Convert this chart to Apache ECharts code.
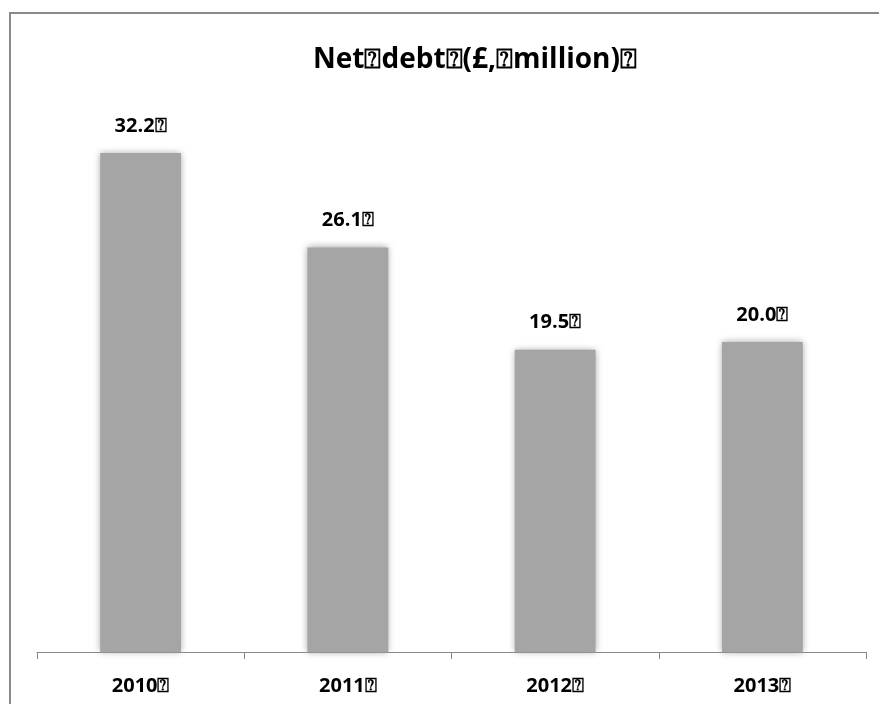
<!DOCTYPE html>
<html><head><meta charset="utf-8">
<script src="https://cdn.jsdelivr.net/npm/echarts@6/dist/echarts.min.js"></script>
<style>html,body{margin:0;padding:0;background:#fff}#c{width:879px;height:704px}</style>
</head><body><div id="c"></div>
<script>
const categories = ["2010\u2370", "2011\u2370", "2012\u2370", "2013\u2370"];
const values = [32.2, 26.1, 19.5, 20.0];
const labelSuffix = "\u2370";
const titleText = "Net\u2370debt\u2370(£,\u2370million)\u2370";

const chart = echarts.init(document.getElementById('c'));
const FONT = '"Open Sans", sans-serif';
chart.setOption({
  animation: false,
  backgroundColor: '#fff',
  title: {
    text: titleText, left: 308, top: 41,
    textStyle: {fontFamily: FONT, fontWeight: 'bold', fontSize: 28, color: '#000'}
  },
  graphic: [{
    type: 'rect', shape: {x: 10, y: 13, width: 900, height: 800},
    style: {fill: 'none', stroke: '#8a8a8a', lineWidth: 2}, z: 100
  }],
  grid: {left: 37, right: 13, top: 32, bottom: 52},
  xAxis: {
    type: 'category', data: categories,
    axisLine: {lineStyle: {color: '#888', width: 1}},
    axisTick: {show: true, length: 7, lineStyle: {color: '#888'}},
    axisLabel: {margin: 24, fontFamily: FONT, fontWeight: 'bold', fontSize: 20, color: '#000'}
  },
  yAxis: {type: 'value', min: 0, max: 40, show: false, splitLine: {show: false}},
  series: [{
    type: 'bar', data: values, barWidth: '39%',
    itemStyle: {color: '#a5a5a5', shadowBlur: 7, shadowColor: 'rgba(160,160,160,1)'},
    label: {
      show: true, position: 'top', distance: 17,
      formatter: p => p.value.toFixed(1) + labelSuffix,
      fontFamily: FONT, fontWeight: 'bold', fontSize: 20, color: '#000'
    }
  }]
});
</script></body></html>
